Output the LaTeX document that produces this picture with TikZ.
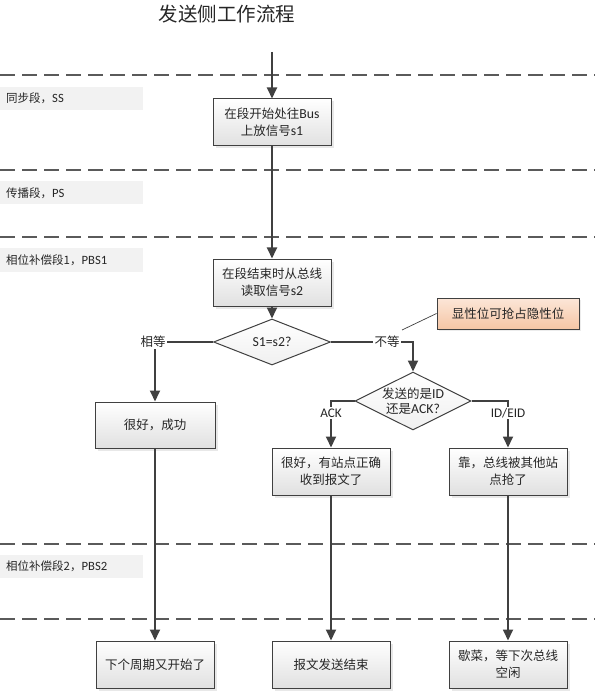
\documentclass[tikz,border=0pt]{standalone}
\usepackage{fontspec}
\setmainfont{Noto Sans CJK SC}
\newfontfamily\lat[Scale=1.1]{Carlito}
\usetikzlibrary{shapes.geometric,arrows.meta,shadows}
\definecolor{ln}{HTML}{404040}
\definecolor{dl}{HTML}{5A5A5A}
\definecolor{lab}{HTML}{F2F2F2}
\definecolor{ntop}{HTML}{FCE6D8}
\definecolor{nbot}{HTML}{F5C6A5}
\definecolor{txt}{HTML}{262626}
\begin{document}
\begin{tikzpicture}[x=1pt,y=-1pt,
  flowbox/.style={draw=ln, line width=1pt, top color=white, bottom color=black!12,
    minimum width=118pt, minimum height=47pt, align=center, text=txt,
    font=\fontsize{12.5}{17}\selectfont, inner sep=2pt,
    drop shadow={shadow xshift=2.5pt, shadow yshift=-2.5pt, fill=black!18}},
  seglab/.style={fill=lab, anchor=west, minimum height=23pt, text width=131pt,
    inner xsep=6pt, align=left, text=txt, font=\fontsize{11.5}{13}\selectfont},
  dia/.style={shape=diamond, draw=ln, line width=1pt, top color=white, bottom color=black!6,
    inner sep=0pt},
  diatext/.style={align=center, text=txt, font=\fontsize{12.5}{15}\selectfont, inner sep=0pt},
  arr/.style={draw=ln, line width=1.8pt, -{Triangle[width=10pt,length=11pt]}},
  seg/.style={draw=dl, line width=2.2pt, dash pattern=on 15pt off 7pt},
  lbl/.style={fill=white, text=txt, inner sep=1.5pt, font=\fontsize{12.5}{14}\selectfont},
  note/.style={draw=ln, line width=1pt, top color=ntop, bottom color=nbot,
    minimum width=142pt, minimum height=31pt, text=txt, font=\fontsize{12.5}{14}\selectfont,
    drop shadow={shadow xshift=2pt, shadow yshift=-2pt, fill=black!15}}
]
\useasboundingbox (0,0) rectangle (595,692);

% title
\node[text=txt, font=\fontsize{19.5}{22}\selectfont] (title) at (227,14) {发送侧工作流程};

% segment separators
\coordinate (s1a) at (0,75);  \coordinate (s1b) at (595,75);
\coordinate (s2a) at (0,170); \coordinate (s2b) at (595,170);
\coordinate (s3a) at (0,237); \coordinate (s3b) at (595,237);
\coordinate (s4a) at (0,544); \coordinate (s4b) at (595,544);
\coordinate (s5a) at (0,619); \coordinate (s5b) at (595,619);
\draw[seg] (s1a) -- (s1b);
\draw[seg] (s2a) -- (s2b);
\draw[seg] (s3a) -- (s3b);
\draw[seg] (s4a) -- (s4b);
\draw[seg] (s5a) -- (s5b);

% segment labels
\node[seglab] (L1) at (0,98.5) {同步段，{\lat SS}};
\node[seglab] (L2) at (0,193) {传播段，{\lat PS}};
\node[seglab] (L3) at (0,260) {相位补偿段1，{\lat PBS1}};
\node[seglab] (L4) at (0,566) {相位补偿段2，{\lat PBS2}};

% flow nodes
\coordinate (start) at (272,52);
\node[flowbox] (b1) at (272,122.5) {在段开始处往{\lat Bus}\\上放信号{\lat s1}};
\node[flowbox] (b2) at (272,282.5) {在段结束时从总线\\读取信号{\lat s2}};
\node[dia, minimum width=117pt, minimum height=46pt] (d1) at (272,342) {};
\node[diatext] (d1t) at (d1.center) {\lat S1=s2?};
\node[flowbox, minimum width=120pt, minimum height=46pt] (ok) at (155,425) {很好，成功};
\node[dia, minimum width=116pt, minimum height=58pt] (d2) at (413,401) {};
\node[diatext] (d2t) at (d2.center) {发送的是{\lat ID}\\还是{\lat ACK?}};
\node[flowbox] (b3) at (331,471.5) {很好，有站点正确\\收到报文了};
\node[flowbox] (b4) at (508,471.5) {靠，总线被其他站\\点抢了};
\node[flowbox] (b5) at (155,664.5) {下个周期又开始了};
\node[flowbox] (b6) at (331,664.5) {报文发送结束};
\node[flowbox] (b7) at (508,664.5) {歇菜，等下次总线\\空闲};
\node[note] (n1) at (508,313.5) {显性位可抢占隐性位};
\coordinate (np) at (402,330);

% connectors
\draw[arr] (start) -- (b1.north);
\draw[arr] (b1.south) -- (b2.north);
\draw[arr] (b2.south) -- (d1.north);
\draw[arr] (d1.west) -| (ok.north);
\draw[arr] (d1.east) -| (d2.north);
\draw[arr] (d2.west) -| (b3.north);
\draw[arr] (d2.east) -| (b4.north);
\draw[arr] (ok.south) -- (b5.north);
\draw[arr] (b3.south) -- (b6.north);
\draw[arr] (b4.south) -- (b7.north);
\draw[ln, line width=0.7pt] (n1.west) -- (np);

% connector labels
\node[lbl] (eq) at (153,342) {相等};
\node[lbl] (ne) at (387,342) {不等};
\node[lbl, font=\lat\fontsize{12}{14}\selectfont] (ack) at (331,413) {ACK};
\node[lbl, font=\lat\fontsize{12}{14}\selectfont] (ide) at (508,413) {ID/EID};
\end{tikzpicture}
\end{document}
